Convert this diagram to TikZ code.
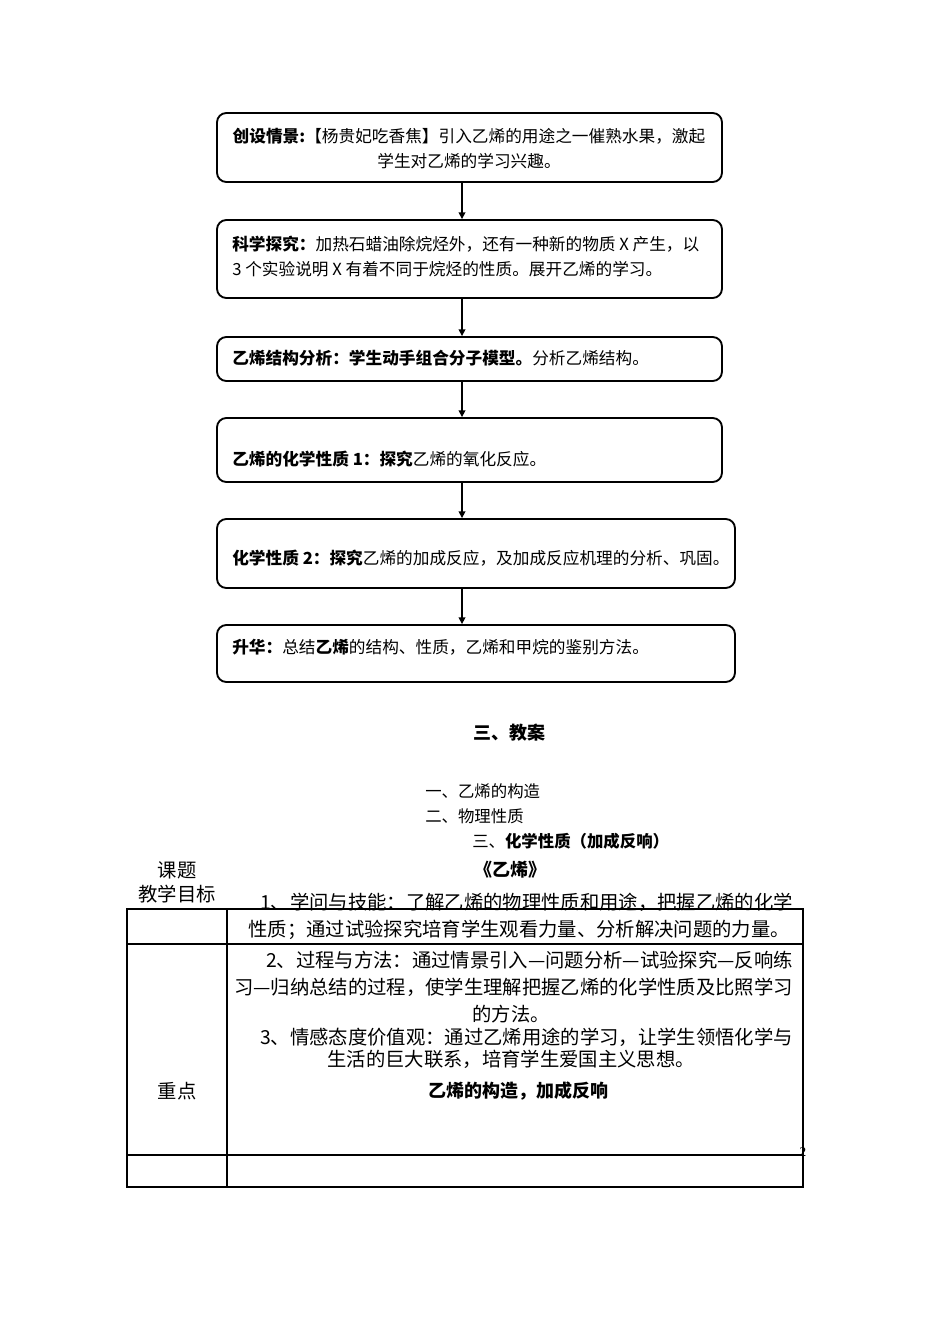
\documentclass[tikz,border=0pt]{standalone}
\usepackage{fontspec}
\setmainfont{Noto Sans CJK SC}
\newfontfamily\numfont{Liberation Serif}
\usetikzlibrary{arrows.meta, positioning}
\tikzset{flowbox/.style={rectangle,draw,line width=1.4pt,rounded corners=7pt,inner sep=0pt},
         boxtext/.style={anchor=west,inner sep=0pt,align=left,font=\fontsize{12.5}{19}\selectfont},
         heading/.style={inner sep=0pt,font=\fontsize{12.3}{15}\selectfont},
         bighead/.style={inner sep=0pt,font=\bfseries\fontsize{13.5}{16}\selectfont},
         celltext/.style={inner sep=0pt,font=\fontsize{14.5}{17}\selectfont},
         rule/.style={draw,line width=0.9pt},
         arrow/.style={-{Triangle[length=5pt,width=5pt]},line width=1.1pt}}

\begin{document}
\begin{tikzpicture}[x=0.75pt,y=-0.75pt]
    \fill[white] (0,0) rectangle (950,1344);
    % Flow boxes
    \node (b1) at (469.5,147.5) [flowbox,minimum width=378.75pt,minimum height=51.75pt]{};
    \node (b2) at (469.5,259) [flowbox,minimum width=378.75pt,minimum height=58.5pt]{};
    \node (b3) at (469.5,359) [flowbox,minimum width=378.75pt,minimum height=33pt]{};
    \node (b4) at (469.5,450) [flowbox,minimum width=378.75pt,minimum height=48pt]{};
    \node (b5) at (476,553.5) [flowbox,minimum width=388.5pt,minimum height=51.75pt]{};
    \node (b6) at (476,653.5) [flowbox,minimum width=388.5pt,minimum height=42.75pt]{};
    % Box texts
    \node (t1) at (469,148.5) [boxtext,anchor=center,align=center]{\textbf{创设情景:}【杨贵妃吃香焦】引入乙烯的用途之一催熟水果，激起\\学生对乙烯的学习兴趣。};
    \node (t2) at (232,256.5) [boxtext]{\textbf{科学探究：}加热石蜡油除烷烃外，还有一种新的物质 X 产生，以\\3 个实验说明 X 有着不同于烷烃的性质。展开乙烯的学习。};
    \node (t3) at (232,358) [boxtext]{\textbf{乙烯结构分析：学生动手组合分子模型。}分析乙烯结构。};
    \node (t4) at (232,459) [boxtext]{\textbf{乙烯的化学性质 1：探究}乙烯的氧化反应。};
    \node (t5) at (232,558) [boxtext]{\textbf{化学性质 2：探究}乙烯的加成反应，及加成反应机理的分析、巩固。};
    \node (t6) at (232,647) [boxtext]{\textbf{升华：}总结\textbf{乙烯}的结构、性质，乙烯和甲烷的鉴别方法。};
    % Arrows
    \coordinate (ax) at (462,0);
    \draw[arrow] (b1.south -| ax) -- (b2.north -| ax);
    \draw[arrow] (b2.south -| ax) -- (b3.north -| ax);
    \draw[arrow] (b3.south -| ax) -- (b4.north -| ax);
    \draw[arrow] (b4.south -| ax) -- (b5.north -| ax);
    \draw[arrow] (b5.south -| ax) -- (b6.north -| ax);
    % Headings
    \node (jiaoan) at (509,733) [bighead]{三、教案};
    \node (h1) at (425,791) [heading,anchor=west]{一、乙烯的构造};
    \node (h2) at (425,816) [heading,anchor=west]{二、物理性质};
    \node (h3) at (472,841) [heading,anchor=west]{三、\textbf{化学性质（加成反响）}};
    \node (title) at (510,870) [bighead]{《乙烯》};
    \node (keti) at (177,870) [celltext]{课题};
    \node (mubiao) at (177,894) [celltext]{教学目标};
    % Table
    \draw[rule] (127,909) rectangle (803,1187);
    \draw[rule] (127,944) -- (803,944);
    \draw[rule] (127,1155) -- (803,1155);
    \draw[rule,line width=1.6pt] (227,909) -- (227,1187);
    % Table texts
    \node (g1) at (793,902) [celltext,anchor=east]{1、学问与技能：了解乙烯的物理性质和用途，把握乙烯的化学};
    \node (g2) at (790,930) [celltext,anchor=east]{性质；通过试验探究培育学生观看力量、分析解决问题的力量。};
    \node (g3) at (793,960) [celltext,anchor=east]{2、过程与方法：通过情景引入—问题分析—试验探究—反响练};
    \node (g4) at (793,987) [celltext,anchor=east]{习—归纳总结的过程，使学生理解把握乙烯的化学性质及比照学习};
    \node (g5) at (511,1014) [celltext]{的方法。};
    \node (g6) at (793,1037) [celltext,anchor=east]{3、情感态度价值观：通过乙烯用途的学习，让学生领悟化学与};
    \node (g7) at (511,1059) [celltext]{生活的巨大联系，培育学生爱国主义思想。};
    \node (zhongdian) at (518,1091) [bighead]{乙烯的构造，加成反响};
    \node (zd) at (177,1091) [celltext]{重点};
    \node (pagenum) at (803,1152) [inner sep=0pt,font=\numfont\fontsize{10}{12}\selectfont]{2};
\end{tikzpicture}
\end{document}
